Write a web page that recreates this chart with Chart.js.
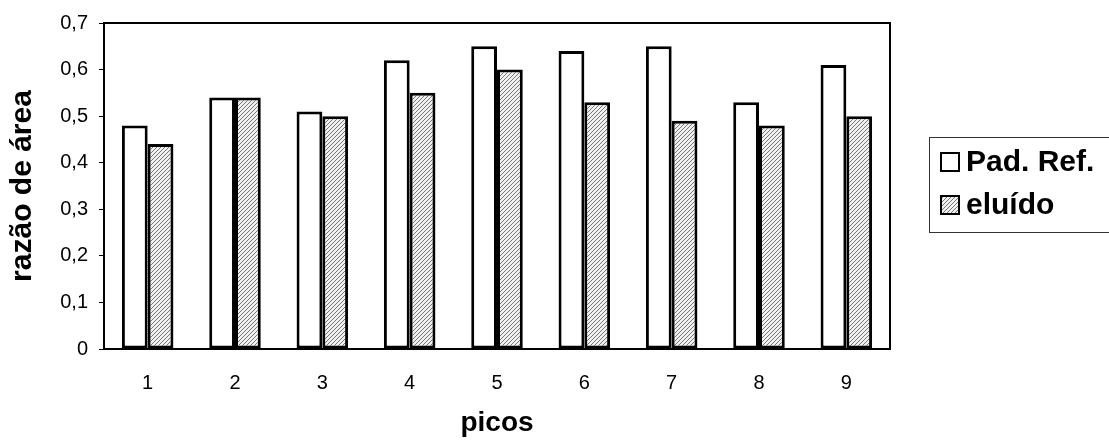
<!DOCTYPE html>
<html>
<head>
<meta charset="utf-8">
<script src="https://cdn.jsdelivr.net/npm/chart.js@4/dist/chart.umd.min.js"></script>
<style>
  html, body { margin: 0; padding: 0; background: #fff; }
  #wrap { width: 1109px; height: 440px; }
</style>
</head>
<body>
<div id="wrap"><canvas id="grafica" width="1109" height="440"></canvas></div>
<script>
// Datos
var picos = ['1', '2', '3', '4', '5', '6', '7', '8', '9'];
var padRef = [0.48, 0.54, 0.51, 0.62, 0.65, 0.64, 0.65, 0.53, 0.61];
var eluido = [0.44, 0.54, 0.50, 0.55, 0.60, 0.53, 0.49, 0.48, 0.50];
var yTickLabels = ['0', '0,1', '0,2', '0,3', '0,4', '0,5', '0,6', '0,7'];
var serieNombres = ['Pad. Ref.', 'eluído'];

var FONT = 'Liberation Sans, Arial, sans-serif';

// Patrón rayado para las barras "eluído"
function rayado() {
    var c = document.createElement('canvas');
    c.width = 4; c.height = 4;
    var g = c.getContext('2d');
    g.fillStyle = '#f0f0f0';
    g.fillRect(0, 0, 4, 4);
    g.strokeStyle = '#777';
    g.lineWidth = 1;
    g.beginPath();
    g.moveTo(-1, 5); g.lineTo(5, -1);
    g.moveTo(-1, 1); g.lineTo(1, -1);
    g.moveTo(3, 5); g.lineTo(5, 3);
    g.stroke();
    return g.createPattern(c, 'repeat');
}
var patron = rayado();

// Marco del área del gráfico + leyenda con borde
var marco = {
    id: 'marco',
    afterDraw: function (chart) {
        var ctx = chart.ctx, a = chart.chartArea;
        ctx.save();
        ctx.strokeStyle = '#000';
        ctx.lineWidth = 2;
        ctx.beginPath();
        ctx.moveTo(a.left, a.top); ctx.lineTo(a.right, a.top); ctx.lineTo(a.right, a.bottom);
        ctx.stroke();

        // leyenda
        ctx.lineWidth = 1;
        ctx.strokeStyle = '#333';
        ctx.strokeRect(929.5, 137.5, 200, 95);
        var filas = [162, 205];
        chart.data.datasets.forEach(function (ds, i) {
            var y = filas[i];
            ctx.fillStyle = ds.backgroundColor;
            ctx.fillRect(941, y - 9, 18, 18);
            ctx.lineWidth = 2;
            ctx.strokeStyle = '#000';
            ctx.strokeRect(941, y - 9, 18, 18);
            ctx.fillStyle = '#000';
            ctx.font = 'bold 30px ' + FONT;
            ctx.textBaseline = 'middle';
            ctx.fillText(ds.label, 966, y + 1);
        });
        ctx.restore();
    }
};

var ctx = document.getElementById('grafica').getContext('2d');
var myChart = new Chart(ctx, {
    type: 'bar',
    data: {
        labels: picos,
        datasets: [
            {
                label: serieNombres[0],
                data: padRef,
                backgroundColor: '#ffffff',
                borderColor: '#000000',
                borderWidth: 3,
                borderSkipped: false,
                categoryPercentage: 0.59,
                barPercentage: 1
            },
            {
                label: serieNombres[1],
                data: eluido,
                backgroundColor: patron,
                borderColor: '#000000',
                borderWidth: 3,
                borderSkipped: false,
                categoryPercentage: 0.59,
                barPercentage: 1
            }
        ]
    },
    options: {
        responsive: false,
        animation: false,
        layout: { padding: { top: 23, right: 219, left: 0, bottom: 0 } },
        plugins: { legend: { display: false }, tooltip: { enabled: false } },
        scales: {
            x: {
                grid: { display: false, drawTicks: false },
                border: { display: true, color: '#000', width: 2 },
                ticks: { color: '#000', font: { family: FONT, size: 20 }, padding: 22, maxRotation: 0 },
                title: { display: true, text: 'picos', color: '#000', font: { family: FONT, size: 28, weight: 'bold' }, padding: { top: 0, bottom: 0 } },
                afterFit: function (s) { s.height = 91; }
            },
            y: {
                min: 0,
                max: 0.7,
                grid: { display: true, drawOnChartArea: false, drawTicks: true, tickLength: 5, color: '#000', lineWidth: 1 },
                border: { display: true, color: '#000', width: 2 },
                ticks: {
                    stepSize: 0.1,
                    color: '#000',
                    font: { family: FONT, size: 20 },
                    padding: 11,
                    callback: function (v, i) { return yTickLabels[i]; }
                },
                title: { display: true, text: 'razão de área', color: '#000', font: { family: FONT, size: 30, weight: 'bold' }, padding: { top: 5, bottom: 0 } },
                afterFit: function (s) { s.width = 104; }
            }
        }
    },
    plugins: [marco]
});
</script>
</body>
</html>
